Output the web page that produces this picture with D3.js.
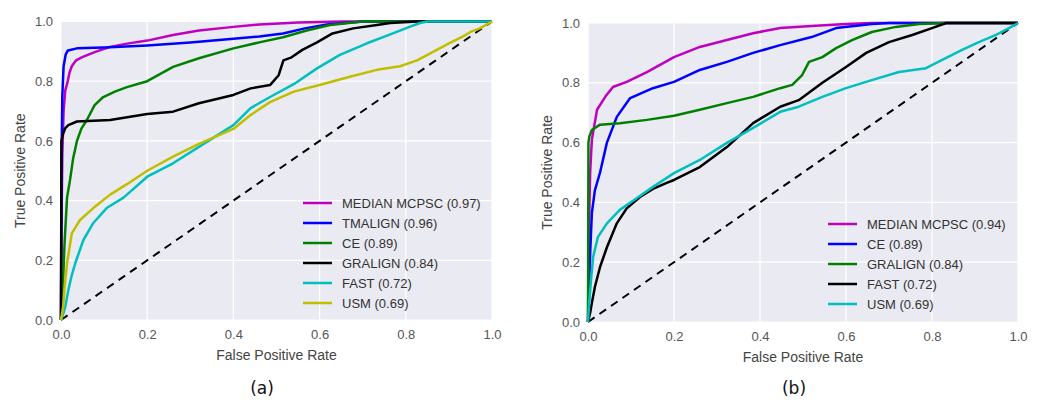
<!DOCTYPE html>
<html>
<head>
<meta charset="utf-8">
<script src="https://cdn.jsdelivr.net/npm/d3@7"></script>
<style>
  body { margin: 0; background: #fff; }
  svg { display: block; }
</style>
</head>
<body>
<svg id="chart" width="1039" height="401"></svg>
<script>
// tick values shared by both panels
const rateTicks = [0.0, 0.2, 0.4, 0.6, 0.8, 1.0];

// panel (a) legend entries
const namesA = ["MEDIAN MCPSC", "TMALIGN", "CE", "GRALIGN", "FAST", "USM"];
const aucA = [0.97, 0.96, 0.89, 0.84, 0.72, 0.69];
const colorsA = ["#bf00bf", "#0000ff", "#008000", "#000000", "#00bfbf", "#bfbf00"];

// panel (b) legend entries
const namesB = ["MEDIAN MCPSC", "CE", "GRALIGN", "FAST", "USM"];
const aucB = [0.94, 0.89, 0.84, 0.72, 0.69];
const colorsB = ["#bf00bf", "#0000ff", "#008000", "#000000", "#00bfbf"];

// ROC points [fpr, tpr] -- panel (a)
const medianA = [[0,0],[0.001,0.3],[0.003,0.55],[0.006,0.7],[0.01,0.77],[0.014,0.79],[0.02,0.83],[0.025,0.85],[0.035,0.87],[0.048,0.88],[0.065,0.89],[0.083,0.9],[0.114,0.915],[0.15,0.925],[0.2,0.936],[0.26,0.955],[0.32,0.97],[0.4,0.982],[0.46,0.99],[0.55,0.997],[0.65,1],[1,1]];
const tmalignA = [[0,0],[0.001,0.5],[0.003,0.75],[0.006,0.85],[0.011,0.89],[0.016,0.903],[0.037,0.91],[0.1,0.913],[0.2,0.92],[0.3,0.93],[0.4,0.942],[0.46,0.95],[0.515,0.96],[0.566,0.977],[0.617,0.99],[0.7,1],[1,1]];
const ceA = [[0,0],[0.004,0.1],[0.008,0.25],[0.014,0.41],[0.021,0.47],[0.028,0.54],[0.037,0.6],[0.047,0.64],[0.06,0.67],[0.078,0.72],[0.098,0.747],[0.125,0.765],[0.153,0.78],[0.2,0.8],[0.26,0.848],[0.32,0.877],[0.4,0.91],[0.46,0.93],[0.515,0.947],[0.57,0.97],[0.624,0.988],[0.7,1],[1,1]];
const gralignA = [[0,0],[0.001,0.6],[0.005,0.625],[0.01,0.643],[0.017,0.653],[0.037,0.665],[0.114,0.67],[0.2,0.69],[0.26,0.698],[0.32,0.726],[0.4,0.754],[0.44,0.776],[0.485,0.787],[0.505,0.82],[0.516,0.87],[0.535,0.88],[0.56,0.905],[0.594,0.93],[0.63,0.96],[0.678,0.977],[0.733,0.988],[0.764,0.995],[0.826,1],[1,1]];
const fastA = [[0,0],[0.005,0.02],[0.01,0.045],[0.017,0.1],[0.025,0.15],[0.033,0.19],[0.052,0.268],[0.075,0.325],[0.106,0.375],[0.145,0.41],[0.183,0.458],[0.2,0.48],[0.26,0.525],[0.32,0.58],[0.4,0.653],[0.44,0.71],[0.485,0.747],[0.54,0.79],[0.594,0.843],[0.647,0.888],[0.71,0.927],[0.77,0.96],[0.81,0.983],[0.833,0.995],[0.85,1],[1,1]];
const usmA = [[0,0],[0.005,0.045],[0.009,0.12],[0.014,0.19],[0.025,0.29],[0.044,0.335],[0.075,0.375],[0.114,0.42],[0.153,0.455],[0.2,0.5],[0.26,0.547],[0.32,0.59],[0.4,0.64],[0.44,0.687],[0.485,0.73],[0.54,0.765],[0.6,0.787],[0.67,0.815],[0.733,0.838],[0.787,0.85],[0.826,0.87],[0.872,0.905],[0.9,0.927],[0.933,0.95],[0.95,0.965],[0.972,0.977],[1,1]];

// ROC points [fpr, tpr] -- panel (b)
const medianB = [[0,0],[0.002,0.3],[0.005,0.5],[0.009,0.61],[0.021,0.71],[0.04,0.753],[0.058,0.786],[0.09,0.803],[0.137,0.836],[0.2,0.886],[0.26,0.92],[0.323,0.943],[0.384,0.966],[0.447,0.983],[0.52,0.99],[0.6,0.997],[0.66,1],[1,1]];
const ceB = [[0,0],[0.003,0.12],[0.005,0.23],[0.009,0.365],[0.016,0.44],[0.028,0.5],[0.044,0.6],[0.067,0.686],[0.098,0.749],[0.151,0.782],[0.2,0.803],[0.26,0.843],[0.323,0.87],[0.384,0.9],[0.447,0.926],[0.52,0.953],[0.577,0.983],[0.66,0.997],[0.7,1],[1,1]];
const gralignB = [[0,0],[0.001,0.6],[0.003,0.62],[0.009,0.642],[0.028,0.66],[0.074,0.665],[0.137,0.676],[0.2,0.69],[0.26,0.71],[0.323,0.732],[0.384,0.753],[0.447,0.782],[0.475,0.793],[0.498,0.826],[0.514,0.87],[0.545,0.886],[0.577,0.916],[0.614,0.943],[0.66,0.97],[0.716,0.987],[0.77,0.997],[0.833,1],[1,1]];
const fastB = [[0,0],[0.005,0.03],[0.009,0.064],[0.016,0.117],[0.028,0.184],[0.044,0.25],[0.067,0.33],[0.09,0.38],[0.121,0.418],[0.151,0.445],[0.183,0.465],[0.2,0.475],[0.26,0.518],[0.323,0.585],[0.384,0.665],[0.447,0.72],[0.49,0.742],[0.545,0.8],[0.6,0.853],[0.647,0.9],[0.7,0.936],[0.754,0.96],[0.8,0.983],[0.833,1],[1,1]];
const usmB = [[0,0],[0.003,0.07],[0.007,0.14],[0.012,0.218],[0.023,0.284],[0.044,0.33],[0.074,0.375],[0.114,0.415],[0.151,0.452],[0.2,0.498],[0.26,0.542],[0.323,0.599],[0.384,0.649],[0.447,0.703],[0.49,0.72],[0.545,0.753],[0.6,0.782],[0.66,0.809],[0.723,0.836],[0.786,0.849],[0.833,0.883],[0.87,0.91],[0.909,0.936],[0.949,0.96],[0.979,0.983],[1,1]];

const chancePoints = [[0,0],[1,1]];

const svg = d3.select("#chart");

function drawPanel(p) {
    const x = d3.scaleLinear().domain([0, 1]).range([p.left, p.right]);
    const y = d3.scaleLinear().domain([0, 1]).range([p.bottom, p.top]);
    const g = svg.append("g");

    // plot background
    g.append("rect")
        .attr("x", p.left).attr("y", p.top)
        .attr("width", p.right - p.left).attr("height", p.bottom - p.top)
        .attr("fill", "#eaeaf2");

    // white grid
    g.selectAll(".vgrid").data(rateTicks).enter().append("line")
        .attr("x1", d => x(d)).attr("x2", d => x(d))
        .attr("y1", p.top).attr("y2", p.bottom)
        .attr("stroke", "#fff").attr("stroke-width", 1.2);
    g.selectAll(".hgrid").data(rateTicks).enter().append("line")
        .attr("y1", d => y(d)).attr("y2", d => y(d))
        .attr("x1", p.left).attr("x2", p.right)
        .attr("stroke", "#fff").attr("stroke-width", 1.2);

    // axes, no tick marks
    const xAxis = d3.axisBottom(x).tickValues(rateTicks).tickFormat(d3.format(".1f")).tickSize(0).tickPadding(10);
    const yAxis = d3.axisLeft(y).tickValues(rateTicks).tickFormat(d3.format(".1f")).tickSize(0).tickPadding(8);
    g.append("g").attr("transform", "translate(0," + p.bottom + ")").call(xAxis)
        .call(a => a.select(".domain").remove());
    g.append("g").attr("transform", "translate(" + p.left + ",0)").call(yAxis)
        .call(a => a.select(".domain").remove());
    g.selectAll(".tick text")
        .attr("font-family", "Liberation Sans, Arial, sans-serif")
        .attr("font-size", 13).attr("fill", "#555");

    // axis titles
    g.append("text")
        .attr("x", (p.left + p.right) / 2).attr("y", p.bottom + 40)
        .attr("text-anchor", "middle")
        .attr("font-family", "Liberation Sans, Arial, sans-serif")
        .attr("font-size", 14).attr("fill", "#444")
        .text("False Positive Rate");
    g.append("text")
        .attr("transform", "translate(" + (p.left - 41) + "," + ((p.top + p.bottom) / 2) + ") rotate(-90)")
        .attr("text-anchor", "middle").attr("dy", "0.35em")
        .attr("font-family", "Liberation Sans, Arial, sans-serif")
        .attr("font-size", 14).attr("fill", "#444")
        .text("True Positive Rate");

    const line = d3.line().x(d => x(d[0])).y(d => y(d[1]));

    // chance diagonal
    g.append("path").datum(chancePoints)
        .attr("d", line)
        .attr("fill", "none").attr("stroke", "#000")
        .attr("stroke-width", 2).attr("stroke-dasharray", "8,6");

    // roc curves
    g.selectAll(".roc").data(p.curves).enter().append("path")
        .attr("d", line)
        .attr("fill", "none")
        .attr("stroke", (d, i) => p.colors[i])
        .attr("stroke-width", 2.5)
        .attr("stroke-linejoin", "round");

    // legend
    const leg = g.selectAll(".leg").data(p.names).enter().append("g")
        .attr("transform", (d, i) => "translate(" + p.legX + "," + (p.legY + i * 20) + ")");
    leg.append("line")
        .attr("x1", 0).attr("x2", 29)
        .attr("stroke", (d, i) => p.colors[i]).attr("stroke-width", 2.5);
    leg.append("text")
        .attr("x", 39).attr("dy", "0.35em")
        .attr("font-family", "Liberation Sans, Arial, sans-serif")
        .attr("font-size", 13).attr("fill", "#333")
        .text((d, i) => d + " (" + p.auc[i].toFixed(2) + ")");

    // caption
    svg.append("text")
        .attr("x", p.capX).attr("y", 388).attr("dy", "0.35em")
        .attr("text-anchor", "middle")
        .attr("font-family", "DejaVu Sans, Verdana, sans-serif")
        .attr("font-size", 17).attr("fill", "#111")
        .text(p.caption);
}

drawPanel({
    left: 61, right: 492, top: 21.5, bottom: 320,
    curves: [medianA, tmalignA, ceA, gralignA, fastA, usmA],
    names: namesA, auc: aucA, colors: colorsA,
    legX: 303, legY: 203, capX: 262, caption: "(a)"
});
drawPanel({
    left: 588, right: 1018, top: 23, bottom: 322,
    curves: [medianB, ceB, gralignB, fastB, usmB],
    names: namesB, auc: aucB, colors: colorsB,
    legX: 828, legY: 224, capX: 794, caption: "(b)"
});
</script>
</body>
</html>
